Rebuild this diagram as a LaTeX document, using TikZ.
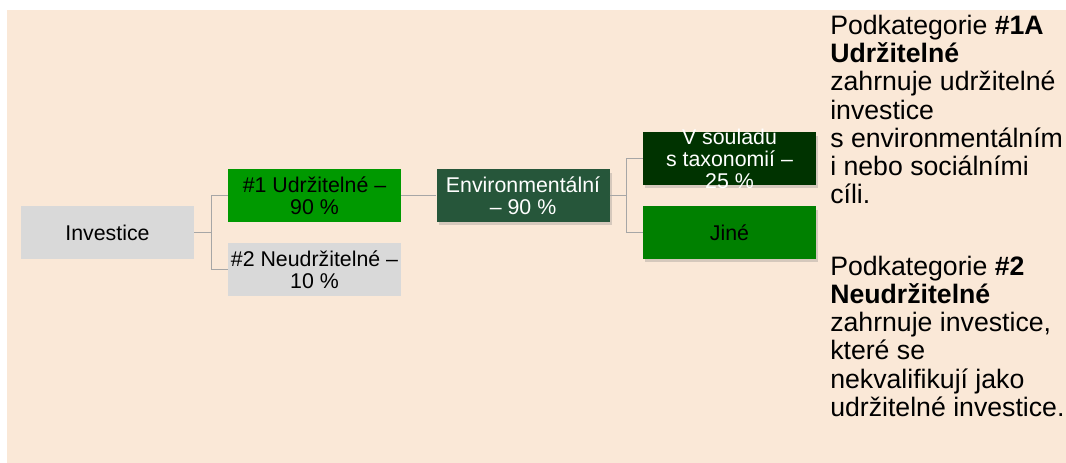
\documentclass[tikz,border=0pt]{standalone}
\usepackage{fontspec}
\setmainfont{Liberation Sans}
\usetikzlibrary{positioning,shadows}

\definecolor{sandbg}{RGB}{250,232,215}
\definecolor{boxgray}{RGB}{217,217,217}
\definecolor{susgreen}{RGB}{0,153,0}
\definecolor{envgreen}{RGB}{38,86,58}
\definecolor{taxgreen}{RGB}{0,51,0}
\definecolor{othgreen}{RGB}{0,128,0}
\definecolor{linkgray}{RGB}{166,166,166}

\begin{document}
\begin{tikzpicture}[x=0.75pt, y=-0.75pt,
    every node/.style={font=\fontsize{16}{16.5}\selectfont, align=center},
    catbox/.style={minimum width=129.75pt, minimum height=39.4pt, inner sep=2pt},
    raised/.style={drop shadow={shadow xshift=1.5pt, shadow yshift=-2.5pt, opacity=0.3}},
    link/.style={draw=linkgray, line width=1pt},
    note/.style={font=\fontsize{20}{21.2}\selectfont, align=left, anchor=base west, inner sep=0pt}]
    \useasboundingbox (0,0) rectangle (1066,463);
    \fill[sandbg] (7,10) rectangle (1066,463);

    % tree of categories
    \node[catbox, fill=boxgray] (inv) at (107.5,232.5) {Investice};
    \node[catbox, fill=susgreen] (sus) at (314.5,195.5) {\#1 Udržitelné –\\90 \%};
    \node[catbox, fill=boxgray] (uns) at (314.5,269.5) {\#2 Neudržitelné –\\10 \%};
    \node[catbox, raised, fill=envgreen, text=white, right=26.25pt of sus] (env) {Environmentální\\– 90 \%};
    \node[catbox, raised, fill=taxgreen, label={[text=white]center:{V souladu\\s taxonomií –\\25 \%}}] (tax) at (729.5,158.5) {};
    \node[catbox, raised, fill=othgreen] (oth) at (729.5,232.5) {Jiné};

    \draw[link] (inv.east) -- ++(17,0) |- (sus.west);
    \draw[link] (inv.east) -- ++(17,0) |- (uns.west);
    \draw[link] (sus.east) -- (env.west);
    \draw[link] (env.east) -- ++(17,0) |- (tax.west);
    \draw[link] (env.east) -- ++(17,0) |- (oth.west);

    % notes on the right (base = last line)
    \node[note] (note1) at (830,204) {Podkategorie \textbf{\#1A}\\\textbf{Udržitelné}\\zahrnuje udržitelné\\investice\\s environmentálním\\i nebo sociálními\\cíli.};
    \node[note] (note2) at (830,416.5) {Podkategorie \textbf{\#2}\\\textbf{Neudržitelné}\\zahrnuje investice,\\které se\\nekvalifikují jako\\udržitelné investice.};
\end{tikzpicture}
\end{document}
